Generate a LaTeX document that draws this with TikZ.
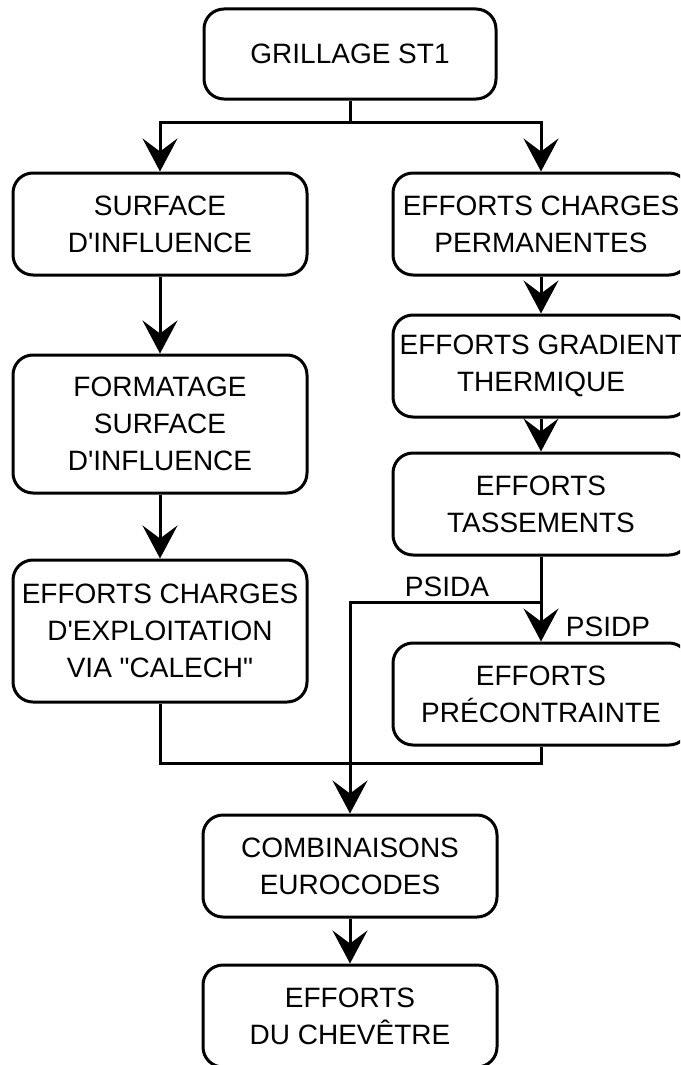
\documentclass[tikz,border=0pt]{standalone}
\usepackage{fontspec}
\setmainfont{Liberation Sans}
\usetikzlibrary{arrows.meta}
\begin{document}
\begin{tikzpicture}[x=1pt,y=-1pt,
  box/.style={draw,line width=3pt,rounded corners=20pt,align=center,inner sep=0pt,
    font=\fontsize{28}{37}\selectfont},
  conn/.style={line width=3pt},
  arr/.style={conn,-{Stealth[length=33pt,width=35pt,inset=13pt]}},
  lab/.style={font=\fontsize{28}{34}\selectfont,inner sep=0pt}]
\useasboundingbox (0,0) rectangle (680,1065);
\fill[white] (0,0) rectangle (680,1065);
\clip (0,0) rectangle (680,1065);
\node[box,minimum width=292pt,minimum height=90pt] (g) at (350,54) {GRILLAGE ST1};
\node[box,minimum width=294pt,minimum height=102pt] (s1) at (160,224) {SURFACE\\D\textquotesingle INFLUENCE};
\node[box,minimum width=294pt,minimum height=138pt] (f) at (160,424) {FORMATAGE\\SURFACE\\D\textquotesingle INFLUENCE};
\node[box,minimum width=294pt,minimum height=142pt] (e) at (160,631) {EFFORTS CHARGES\\D\textquotesingle EXPLOITATION\\VIA \textquotedbl CALECH\textquotedbl};
\node[box,minimum width=296pt,minimum height=102pt] (p) at (541,224) {EFFORTS CHARGES\\PERMANENTES};
\node[box,minimum width=296pt,minimum height=102pt] (t) at (541,366) {EFFORTS GRADIENT\\THERMIQUE};
\node[box,minimum width=296pt,minimum height=102pt] (ta) at (541,504) {EFFORTS\\TASSEMENTS};
\node[box,minimum width=296pt,minimum height=102pt] (pr) at (541,694) {EFFORTS\\PRÉCONTRAINTE};
\node[box,minimum width=294pt,minimum height=102pt] (c) at (350,866) {COMBINAISONS\\EUROCODES};
\node[box,minimum width=294pt,minimum height=102pt] (d) at (350,1016) {EFFORTS\\DU CHEVÊTRE};
\coordinate (j1) at (350,122);
\coordinate (ja) at (541,602);
\coordinate (jm) at (541,763);
\draw[arr] (g.south) -- (j1) -| (s1.north);
\draw[arr] (j1) -| (p.north);
\draw[arr] (s1) -- (f);
\draw[arr] (f) -- (e);
\draw[arr] (p) -- (t);
\draw[arr] (t) -- (ta);
\draw[arr] (ta) -- (pr);
\draw[arr] (ja) -| (c.north);
\draw[conn] (e.south) |- (jm) -- (pr.south);
\draw[arr] (c) -- (d);
\node[lab] (psida) at (447,587) {PSIDA};
\node[lab] (psidp) at (608,627) {PSIDP};
\end{tikzpicture}
\end{document}
